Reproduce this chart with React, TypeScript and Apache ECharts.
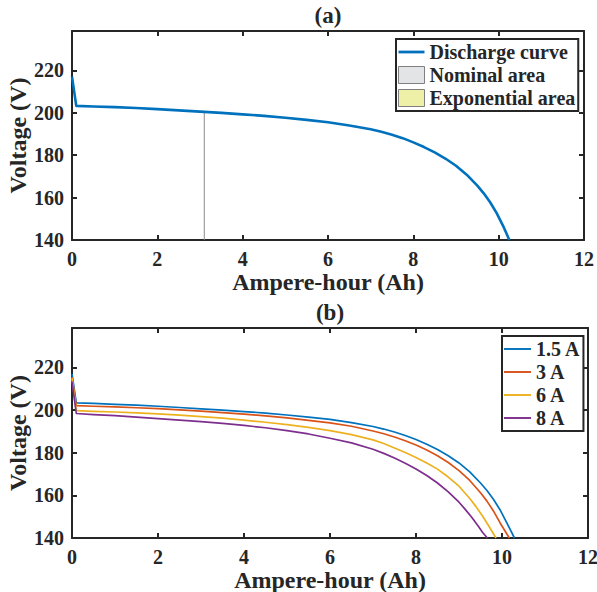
import React, { useEffect, useRef } from 'react';
import * as echarts from 'echarts';

// ---- Data ----
const xTicks = [0, 2, 4, 6, 8, 10, 12];
const yTicks = [140, 160, 180, 200, 220];

// (a) discharge curve
const dischargeAh = [0, 0.1, 0.5, 1, 1.5, 2, 2.5, 3, 3.5, 4, 4.5, 5, 5.5, 6, 6.5, 7, 7.25, 7.5, 7.75, 8, 8.25, 8.5, 8.75, 9, 9.25, 9.5, 9.65, 9.8, 9.95, 10.1, 10.25];
const dischargeV = [217, 203.2, 202.9, 202.6, 202.2, 201.7, 201.1, 200.5, 199.9, 199.2, 198.5, 197.6, 196.6, 195.5, 194, 192.2, 191, 189.6, 188, 186, 183.8, 181.3, 178.4, 175, 170.8, 165.6, 162, 157.8, 152.8, 146.8, 140];
const nominalAh = [3.1, 3.1];
const nominalV = [140, 200];

// (b) discharge at different currents
const seriesNames = ['1.5 A', '3 A', '6 A', '8 A'];
const ah15 = [0, 0.1, 0.5, 1, 1.5, 2, 2.5, 3, 3.5, 4, 4.5, 5, 5.5, 6, 6.5, 7, 7.25, 7.5, 7.75, 8, 8.25, 8.5, 8.75, 9, 9.25, 9.5, 9.65, 9.8, 9.95, 10.1, 10.29];
const v15 = [217, 203.4, 203.1, 202.7, 202.3, 201.8, 201.2, 200.6, 200, 199.3, 198.6, 197.7, 196.7, 195.6, 194.1, 192.3, 191.1, 189.7, 188.1, 186.2, 184, 181.5, 178.6, 175.2, 171, 165.8, 162.3, 158.2, 153.4, 147.6, 140];
const ah3 = [0, 0.1, 0.5, 1, 1.5, 2, 2.5, 3, 3.5, 4, 4.5, 5, 5.5, 6, 6.5, 7, 7.25, 7.5, 7.75, 8, 8.25, 8.5, 8.75, 9, 9.25, 9.5, 9.65, 9.8, 9.95, 10.17];
const v3 = [215.5, 202.1, 201.8, 201.5, 201.1, 200.7, 200.1, 199.5, 198.8, 198.1, 197.3, 196.3, 195.2, 194, 192.4, 190.2, 188.9, 187.4, 185.6, 183.6, 181.3, 178.6, 175.4, 171.6, 167, 161.2, 157.3, 152.7, 147.3, 140];
const ah6 = [0, 0.1, 0.5, 1, 1.5, 2, 2.5, 3, 3.5, 4, 4.5, 5, 5.5, 6, 6.5, 7, 7.25, 7.5, 7.75, 8, 8.25, 8.5, 8.75, 9, 9.25, 9.4, 9.55, 9.7, 9.86];
const v6 = [215, 199.7, 199.4, 199.1, 198.7, 198.2, 197.6, 196.9, 196.2, 195.3, 194.3, 193.2, 191.9, 190.4, 188.5, 186, 184.3, 182.2, 180.1, 177.8, 175.2, 172.3, 168.6, 164.3, 158.5, 154.6, 150.2, 145.4, 140];
const ah8 = [0, 0.1, 0.5, 1, 1.5, 2, 2.5, 3, 3.5, 4, 4.5, 5, 5.5, 6, 6.5, 7, 7.25, 7.5, 7.75, 8, 8.25, 8.5, 8.75, 9, 9.15, 9.3, 9.45, 9.55, 9.66];
const v8 = [213.4, 198.4, 197.9, 197.4, 196.7, 196, 195.3, 194.6, 193.8, 192.8, 191.7, 190.4, 188.8, 186.8, 184.6, 181.6, 179.7, 177.5, 175.1, 172.4, 169.3, 165.8, 161.6, 156.8, 153.3, 149.6, 145.5, 142.6, 140];

const colors = ['#0072BD', '#D95319', '#EDB120', '#7E2F8E'];

const FONT = 'Liberation Serif';
const AX = '#262626';

const pairs = (x: number[], y: number[]) => x.map((v, i) => [v, y[i]]);

const Y_MIN = yTicks[0];
const Y_MAX = 238.5;

function axisCommon(gridIndex: number) {
  return {
    gridIndex,
    type: 'value' as const,
    axisLine: { show: true, onZero: false, lineStyle: { color: AX, width: 2 } },
    axisTick: { show: true, inside: true, length: 5, lineStyle: { color: AX, width: 2 } },
    splitLine: { show: false },
  };
}

function xAxes(gridIndex: number) {
  return [
    {
      ...axisCommon(gridIndex),
      position: 'bottom',
      min: xTicks[0],
      max: xTicks[xTicks.length - 1],
      interval: 2,
      axisLabel: { color: AX, fontFamily: FONT, fontWeight: 'bold', fontSize: 20, margin: 9 },
      name: 'Ampere-hour (Ah)',
      nameLocation: 'middle',
      nameGap: 29,
      nameTextStyle: { color: AX, fontFamily: FONT, fontWeight: 'bold', fontSize: 24 },
    },
    {
      ...axisCommon(gridIndex),
      position: 'top',
      min: xTicks[0],
      max: xTicks[xTicks.length - 1],
      interval: 2,
      axisLabel: { show: false },
    },
  ];
}

function yAxes(gridIndex: number) {
  return [
    {
      ...axisCommon(gridIndex),
      position: 'left',
      min: Y_MIN,
      max: Y_MAX,
      interval: 20,
      axisLabel: {
        color: AX,
        fontFamily: FONT,
        fontWeight: 'bold',
        fontSize: 20,
        margin: 8,
        formatter: (v: number) => (yTicks.includes(v) ? String(v) : ''),
      },
      name: 'Voltage (V)',
      nameLocation: 'middle',
      nameGap: 42,
      nameMoveOverlap: false,
      nameTextStyle: { color: AX, fontFamily: FONT, fontWeight: 'bold', fontSize: 24 },
    },
    {
      ...axisCommon(gridIndex),
      position: 'right',
      min: Y_MIN,
      max: Y_MAX,
      interval: 20,
      axisLabel: { show: false },
    },
  ];
}

const legendText = { color: AX, fontFamily: FONT, fontWeight: 'bold' as const, fontSize: 20 };

export default function App() {
  const ref = useRef<HTMLDivElement>(null);
  useEffect(() => {
    if (!ref.current) return;
    const chart = echarts.init(ref.current, undefined, { renderer: 'svg' });
    const lineIcon = 'path://M0,0H28V3H0Z';
    const thinIcon = 'path://M0,0H28V2H0Z';
    chart.setOption({
      animation: false,
      backgroundColor: '#ffffff',
      grid: [
        { left: 72, top: 31, width: 512, height: 209, containLabel: false, outerBoundsMode: 'none' },
        { left: 72, top: 328, width: 516, height: 210, containLabel: false, outerBoundsMode: 'none' },
      ],
      xAxis: [...xAxes(0), ...xAxes(1)],
      yAxis: [...yAxes(0), ...yAxes(1)],
      legend: [
        {
          orient: 'vertical',
          left: 396,
          top: 39,
          itemWidth: 26,
          itemHeight: 17,
          itemGap: 3,
          padding: [3, 3, 3, 2],
          borderColor: AX,
          borderWidth: 2,
          borderRadius: 0,
          backgroundColor: '#ffffff',
          selectedMode: false,
          textStyle: legendText,
          data: [
            { name: 'Discharge curve', icon: lineIcon, itemStyle: { color: colors[0], borderWidth: 0 } },
            { name: 'Nominal area', icon: 'rect', itemStyle: { color: '#e3e4e6', borderColor: '#7f7f7f', borderWidth: 1 } },
            { name: 'Exponential area', icon: 'rect', itemStyle: { color: '#eff0a8', borderColor: '#7f7f7f', borderWidth: 1 } },
          ],
        },
        {
          orient: 'vertical',
          left: 502,
          top: 336,
          itemWidth: 27,
          itemHeight: 17,
          itemGap: 3,
          padding: [3, 3, 3, 2],
          borderColor: AX,
          borderWidth: 2,
          borderRadius: 0,
          backgroundColor: '#ffffff',
          selectedMode: false,
          textStyle: legendText,
          data: seriesNames.map((n, i) => ({ name: n, icon: thinIcon, itemStyle: { color: colors[i], borderWidth: 0 } })),
        },
      ],
      graphic: [
        { type: 'text', x: 328, y: 15, style: { text: '(a)', align: 'center', verticalAlign: 'middle', fill: AX, font: `bold 23px ${FONT}` } },
        { type: 'text', x: 330, y: 312, style: { text: '(b)', align: 'center', verticalAlign: 'middle', fill: AX, font: `bold 23px ${FONT}` } },
      ],
      series: [
        {
          name: 'Nominal area',
          type: 'line',
          xAxisIndex: 0,
          yAxisIndex: 0,
          data: pairs(nominalAh, nominalV),
          symbol: 'none',
          color: '#8c8c8c',
          lineStyle: { color: '#8c8c8c', width: 1 },
        },
        {
          name: 'Exponential area',
          type: 'line',
          xAxisIndex: 0,
          yAxisIndex: 0,
          data: [],
          symbol: 'none',
          color: '#eff0a8',
        },
        {
          name: 'Discharge curve',
          type: 'line',
          xAxisIndex: 0,
          yAxisIndex: 0,
          data: pairs(dischargeAh, dischargeV),
          symbol: 'none',
          color: colors[0],
          lineStyle: { color: colors[0], width: 2.6, join: 'round' },
        },
        ...[
          [ah15, v15],
          [ah3, v3],
          [ah6, v6],
          [ah8, v8],
        ].map(([x, y], i) => ({
          name: seriesNames[i],
          type: 'line',
          xAxisIndex: 2,
          yAxisIndex: 2,
          data: pairs(x, y),
          symbol: 'none',
          color: colors[i],
          lineStyle: { color: colors[i], width: 1.7, join: 'round' },
        })),
      ],
    });
    return () => chart.dispose();
  }, []);
  return <div ref={ref} style={{ position: 'absolute', left: 0, top: 0, width: 597, height: 592 }} />;
}
